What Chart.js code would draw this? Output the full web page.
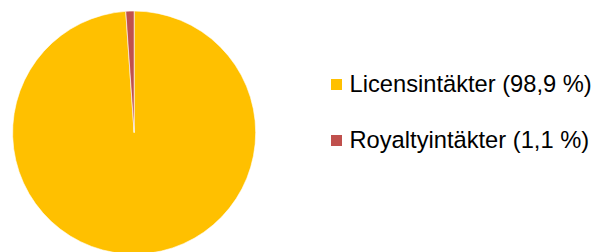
<!DOCTYPE html>
<html>
<head>
<meta charset="utf-8">
<script src="https://cdn.jsdelivr.net/npm/chart.js"></script>
<style>
  html, body { margin: 0; padding: 0; background: #fff; overflow: hidden; }
  #wrap { position: relative; width: 595px; height: 252px; overflow: hidden; }
  #pie { position: absolute; left: 0; top: 0; }
  #legend { position: absolute; left: 331px; top: 72.6px; margin: 0; padding: 0; list-style: none;
            font-family: "Liberation Sans", Arial, sans-serif; font-size: 23.7px; color: #000; }
  #legend li { display: flex; align-items: center; height: 23.7px; line-height: 23.7px; margin-bottom: 32.3px; white-space: nowrap; }
  #legend .box { width: 11px; height: 11px; margin-right: 7.5px; flex: none; }
</style>
</head>
<body>
<div id="wrap">
  <canvas id="pie" width="270" height="262"></canvas>
  <ul id="legend"></ul>
</div>
<script>
  // data
  const categories = ['Licensintäkter', 'Royaltyintäkter'];
  const shares = [98.9, 1.1];
  const shareLabels = ['98,9 %', '1,1 %'];
  const colors = ['#FFC000', '#C0504D'];

  const pieCanvas = document.getElementById('pie');

  const pieChart = new Chart(pieCanvas, {
    type: 'pie',
    data: {
      labels: categories,
      datasets: [{
        data: shares,
        backgroundColor: colors,
        borderColor: '#ffffff',
        borderWidth: 0.6
      }]
    },
    options: {
      responsive: false,
      animation: false,
      layout: { padding: { left: 12.3, top: 10.7, right: 14, bottom: 7.5 } },
      plugins: {
        legend: { display: false },
        tooltip: { enabled: false }
      }
    }
  });

  // html legend next to the pie
  const legendEl = document.getElementById('legend');
  categories.forEach((name, i) => {
    const li = document.createElement('li');
    const box = document.createElement('span');
    box.className = 'box';
    box.style.background = colors[i];
    const txt = document.createElement('span');
    txt.textContent = name + ' (' + shareLabels[i] + ')';
    li.appendChild(box);
    li.appendChild(txt);
    legendEl.appendChild(li);
  });
</script>
</body>
</html>
